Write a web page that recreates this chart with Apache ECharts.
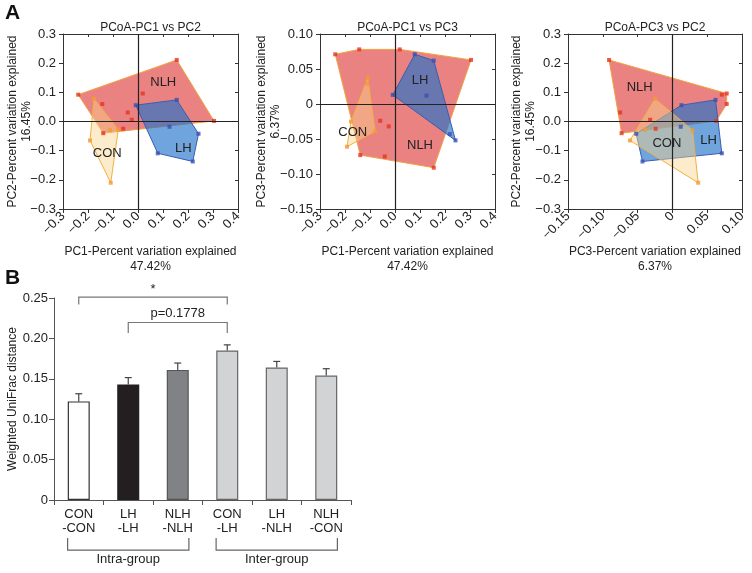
<!DOCTYPE html>
<html><head><meta charset="utf-8">
<script src="https://cdn.jsdelivr.net/npm/echarts@6/dist/echarts.min.js"></script>
<style>html,body{margin:0;padding:0;background:#fff}#c{width:752px;height:573px}</style>
</head><body><div id="c"></div>
<script>
// ---- PCoA coordinates (PC1, PC2, PC3) per sample ----
const conPC1 = [-0.176, -0.109, -0.192, -0.079, -0.112];
const conPC2 = [ 0.078, -0.210, -0.065, -0.028, -0.030];
const conPC3 = [-0.025,  0.037, -0.061, -0.039,  0.029];

const lhPC1 = [-0.009, 0.155,  0.079,  0.219,  0.242,  0.126];
const lhPC2 = [ 0.056, 0.074, -0.109, -0.137, -0.042, -0.018];
const lhPC3 = [ 0.013, 0.062,  0.071, -0.043, -0.052,  0.012];

const nlhPC1 = [-0.239,  0.155, 0.304, -0.143, -0.041, 0.019, -0.025, -0.059, -0.139];
const nlhPC2 = [ 0.092,  0.211, 0.002,  0.060,  0.031, 0.096,  0.006, -0.025, -0.040];
const nlhPC3 = [ 0.071, -0.091, 0.063,  0.078, -0.075, 0.078, -0.032, -0.024, -0.073];

const groupNames = ['NLH', 'LH', 'CON'];

// ---- Weighted UniFrac distances ----
const pairCategories = ['CON\n-CON', 'LH\n-LH', 'NLH\n-NLH', 'CON\n-LH', 'LH\n-NLH', 'NLH\n-CON'];
const meanDistance = [0.122, 0.143, 0.161, 0.185, 0.164, 0.154];
const semDistance  = [0.0095, 0.0085, 0.0085, 0.0070, 0.0075, 0.0085];

const sigFrom = [0, 1];
const sigTo = [3, 3];
const sigLevel = [0.251, 0.2197];
const sigDrop = [0.009, 0.013];
const sigText = ['*', 'p=0.1778'];

const groupFrom = [0, 3];
const groupTo = [2, 5];
const groupLabels = ['Intra-group', 'Inter-group'];

// ---------------------------------------------------------------
const FONT = '"Liberation Sans", Arial, Helvetica, sans-serif';
const TXT = '#222';
const AX = '#333';
const TICK_FS = 13;

const groups = [
  {name: 'NLH', pcs: [nlhPC1, nlhPC2, nlhPC3], fill: 'rgba(218,40,40,0.58)', stroke: '#f0a23c', point: '#e5331f'},
  {name: 'LH',  pcs: [lhPC1, lhPC2, lhPC3],    fill: 'rgba(30,112,200,0.64)', stroke: '#3a5db5', point: '#3a4fb0'},
  {name: 'CON', pcs: [conPC1, conPC2, conPC3], fill: 'rgba(250,212,140,0.45)', stroke: '#f2b040', point: '#f39a35'}
];

function signed(v, d, zero) {
  if (Math.abs(v) < 1e-9) return zero;
  const s = Math.abs(v).toFixed(d);
  return v < 0 ? '\u2212' + s : s;
}

function convexHull(pts) {
  const p = pts.slice().sort((a, b) => a[0] - b[0] || a[1] - b[1]);
  const cross = (o, a, b) => (a[0] - o[0]) * (b[1] - o[1]) - (a[1] - o[1]) * (b[0] - o[0]);
  const lower = [];
  for (const q of p) { while (lower.length >= 2 && cross(lower[lower.length - 2], lower[lower.length - 1], q) <= 0) lower.pop(); lower.push(q); }
  const upper = [];
  for (let i = p.length - 1; i >= 0; i--) { const q = p[i]; while (upper.length >= 2 && cross(upper[upper.length - 2], upper[upper.length - 1], q) <= 0) upper.pop(); upper.push(q); }
  upper.pop(); lower.pop();
  return lower.concat(upper);
}

const panels = [
  {title: 'PCoA-PC1 vs PC2', xKey: 0, yKey: 1,
   grid: {left: 63, top: 34, width: 175, height: 175},
   x: {min: -0.3, max: 0.4, interval: 0.1, dec: 1, zero: '0.0'},
   y: {min: -0.3, max: 0.3, interval: 0.1, dec: 1, zero: '0.0'},
   xName: 'PC1-Percent variation explained\n47.42%', yName: 'PC2-Percent variation explained\n16.45%', yGap: 29,
   labels: {NLH: [0.101, 0.135], LH: [0.181, -0.093], CON: [-0.123, -0.111]}},
  {title: 'PCoA-PC1 vs PC3', xKey: 0, yKey: 2,
   grid: {left: 320, top: 34, width: 175, height: 175},
   x: {min: -0.3, max: 0.4, interval: 0.1, dec: 1, zero: '0.0'},
   y: {min: -0.15, max: 0.1, interval: 0.05, dec: 2, zero: '0'},
   xName: 'PC1-Percent variation explained\n47.42%', yName: 'PC3-Percent variation explained\n6.37%', yGap: 37,
   labels: {NLH: [0.10, -0.059], LH: [0.10, 0.033], CON: [-0.169, -0.041]}},
  {title: 'PCoA-PC3 vs PC2', xKey: 2, yKey: 1,
   grid: {left: 568, top: 34, width: 174, height: 175},
   x: {min: -0.15, max: 0.1, interval: 0.05, dec: 2, zero: '0'},
   y: {min: -0.3, max: 0.3, interval: 0.1, dec: 1, zero: '0.0'},
   xName: 'PC3-Percent variation explained\n6.37%', yName: 'PC2-Percent variation explained\n16.45%', yGap: 30,
   labels: {NLH: [-0.047, 0.118], LH: [0.052, -0.065], CON: [-0.008, -0.074]}}
];

const grid = [], xAxis = [], yAxis = [], series = [], title = [];

panels.forEach((pn, i) => {
  grid.push(Object.assign({containLabel: false}, pn.grid));
  title.push({text: pn.title, left: pn.grid.left + pn.grid.width / 2, top: 22, textAlign: 'center', padding: 0,
    textStyle: {fontSize: 12, fontWeight: 'normal', color: TXT, fontFamily: FONT}});
  const xi = xAxis.length, yi = yAxis.length;
  xAxis.push({type: 'value', gridIndex: i, position: 'bottom', min: pn.x.min, max: pn.x.max, interval: pn.x.interval,
    name: pn.xName, nameLocation: 'middle', nameGap: 35, nameMoveOverlap: false,
    nameTextStyle: {fontSize: 12, color: TXT, lineHeight: 15, fontFamily: FONT},
    axisLine: {show: true, onZero: false, lineStyle: {color: AX}},
    axisTick: {show: true, inside: false, length: 4, lineStyle: {color: AX}},
    axisLabel: {rotate: 45, margin: 5, fontSize: TICK_FS, color: TXT, fontFamily: FONT,
      formatter: v => signed(v, pn.x.dec, pn.x.zero)},
    splitLine: {show: false}});
  xAxis.push({type: 'value', gridIndex: i, position: 'top', min: pn.x.min, max: pn.x.max, interval: pn.x.interval,
    axisLine: {show: true, onZero: false, lineStyle: {color: AX}},
    axisTick: {show: true, inside: true, length: 3, lineStyle: {color: AX}},
    axisLabel: {show: false}, splitLine: {show: false}});
  yAxis.push({type: 'value', gridIndex: i, position: 'left', min: pn.y.min, max: pn.y.max, interval: pn.y.interval,
    name: pn.yName, nameLocation: 'middle', nameGap: pn.yGap, nameRotate: 90, nameMoveOverlap: false,
    nameTextStyle: {fontSize: 12, color: TXT, lineHeight: 14, fontFamily: FONT},
    axisLine: {show: true, onZero: false, lineStyle: {color: AX}},
    axisTick: {show: true, inside: false, length: 4, lineStyle: {color: AX}},
    axisLabel: {margin: 7, fontSize: TICK_FS, color: TXT, fontFamily: FONT,
      formatter: v => signed(v, pn.y.dec, pn.y.zero)},
    splitLine: {show: false}});
  yAxis.push({type: 'value', gridIndex: i, position: 'right', min: pn.y.min, max: pn.y.max, interval: pn.y.interval,
    axisLine: {show: true, onZero: false, lineStyle: {color: AX}},
    axisTick: {show: true, inside: true, length: 3, lineStyle: {color: AX}},
    axisLabel: {show: false}, splitLine: {show: false}});

  // hull polygons
  groups.forEach((g, gi) => {
    const pts = g.pcs[pn.xKey].map((v, k) => [v, g.pcs[pn.yKey][k]]);
    const hull = convexHull(pts);
    series.push({type: 'custom', name: g.name + ' hull', xAxisIndex: xi, yAxisIndex: yi, silent: true, z: 1 + gi * 0.1,
      clip: false, data: hull,
      renderItem: (params, api) => {
        if (params.dataIndex !== 0) return null;
        return {type: 'polygon', shape: {points: hull.map(p => api.coord(p))},
          style: {fill: g.fill, stroke: g.stroke, lineWidth: 1}};
      }});
  });
  // points
  groups.forEach((g, gi) => {
    const pts = g.pcs[pn.xKey].map((v, k) => [v, g.pcs[pn.yKey][k]]);
    const s = {type: 'scatter', name: g.name, xAxisIndex: xi, yAxisIndex: yi, data: pts, symbol: 'rect', symbolSize: 4,
      itemStyle: {color: g.point}, silent: true, z: 3};
    if (gi === 0) {
      s.markLine = {silent: true, symbol: ['none', 'none'], label: {show: false}, animation: false,
        lineStyle: {color: '#222', width: 1.2, type: 'solid'}, emphasis: {disabled: true},
        data: [{xAxis: 0}, {yAxis: 0}]};
    }
    series.push(s);
  });
  // group names
  series.push({type: 'custom', name: 'labels', xAxisIndex: xi, yAxisIndex: yi, silent: true, z: 4, clip: false,
    data: groupNames.map(n => pn.labels[n].concat([n])),
    renderItem: (params, api) => {
      const c = api.coord([api.value(0), api.value(1)]);
      return {type: 'text', x: c[0], y: c[1],
        style: {text: groupNames[params.dataIndex], fill: TXT, fontSize: 13, fontFamily: FONT, align: 'center', verticalAlign: 'middle'}};
    }});
});

// ---- bar chart ----
const bi = 3;
grid.push({left: 54, top: 298, width: 297, height: 202, containLabel: false});
const bxi = xAxis.length, byi = yAxis.length;
xAxis.push({type: 'category', gridIndex: bi, data: pairCategories,
  axisLine: {show: true, lineStyle: {color: '#555'}},
  axisTick: {show: true, length: 5, lineStyle: {color: '#555'}},
  axisLabel: {fontSize: 13, lineHeight: 14, margin: 7, color: TXT, fontFamily: FONT, interval: 0},
  splitLine: {show: false}});
yAxis.push({type: 'value', gridIndex: bi, min: 0, max: 0.25, interval: 0.05,
  name: 'Weighted UniFrac distance', nameLocation: 'middle', nameGap: 35, nameRotate: 90, nameMoveOverlap: false,
  nameTextStyle: {fontSize: 12, color: TXT, fontFamily: FONT},
  axisLine: {show: true, lineStyle: {color: '#555'}},
  axisTick: {show: true, length: 5, lineStyle: {color: '#555'}},
  axisLabel: {fontSize: TICK_FS, margin: 6, color: TXT, fontFamily: FONT, formatter: v => v === 0 ? '0' : v.toFixed(2)},
  splitLine: {show: false}});

const barFills = ['#ffffff', '#231f20', '#808285', '#d1d3d4', '#d1d3d4', '#d1d3d4'];
const barBorders = ['#333', '#231f20', '#555', '#666', '#666', '#666'];
series.push({type: 'bar', xAxisIndex: bxi, yAxisIndex: byi, barWidth: 22, silent: true, z: 2,
  data: meanDistance.map((v, i) => ({value: v, itemStyle: {color: barFills[i], borderColor: barBorders[i], borderWidth: 1.2}}))});

series.push({type: 'custom', name: 'sem', xAxisIndex: bxi, yAxisIndex: byi, silent: true, z: 3, clip: false,
  data: meanDistance.map((v, i) => [i, v, semDistance[i]]),
  renderItem: (params, api) => {
    const b = api.coord([api.value(0), api.value(1)]);
    const t = api.coord([api.value(0), api.value(1) + api.value(2)]);
    const st = {stroke: '#444', lineWidth: 1.2};
    return {type: 'group', children: [
      {type: 'line', shape: {x1: b[0], y1: b[1], x2: t[0], y2: t[1]}, style: st},
      {type: 'line', shape: {x1: t[0] - 3.5, y1: t[1], x2: t[0] + 3.5, y2: t[1]}, style: st}
    ]};
  }});

series.push({type: 'custom', name: 'significance', xAxisIndex: bxi, yAxisIndex: byi, silent: true, z: 3, clip: false,
  data: sigFrom.map((f, i) => [f, sigLevel[i], sigTo[i], sigDrop[i]]),
  renderItem: (params, api) => {
    const i = params.dataIndex;
    const lvl = api.value(1), drop = api.value(3);
    const a = api.coord([api.value(0), lvl]), a2 = api.coord([api.value(0), lvl - drop]);
    const b = api.coord([api.value(2), lvl]), b2 = api.coord([api.value(2), lvl - drop]);
    return {type: 'group', children: [
      {type: 'polyline', shape: {points: [a2, a, b, b2]}, style: {stroke: '#777', lineWidth: 1.2, fill: null}},
      {type: 'text', x: (a[0] + b[0]) / 2, y: a[1] - (i === 0 ? 1 : 3),
        style: {text: sigText[i], fill: TXT, fontSize: 13, fontFamily: FONT, align: 'center', verticalAlign: 'bottom'}}
    ]};
  }});

series.push({type: 'custom', name: 'groups', xAxisIndex: bxi, yAxisIndex: byi, silent: true, z: 3, clip: false,
  data: groupFrom.map((f, i) => [f, 0, groupTo[i]]),
  renderItem: (params, api) => {
    const half = api.size([1, 0])[0] * 0.225;
    const f = api.coord([api.value(0), -0.047]), fB = api.coord([api.value(0), -0.062]);
    const t = api.coord([api.value(2), -0.047]), tB = api.coord([api.value(2), -0.062]);
    const x0 = f[0] - half, x1 = t[0] + half;
    return {type: 'group', children: [
      {type: 'polyline', shape: {points: [[x0, f[1]], [x0, fB[1]], [x1, tB[1]], [x1, t[1]]]}, style: {stroke: '#666', lineWidth: 1.2, fill: null}},
      {type: 'text', x: (x0 + x1) / 2, y: fB[1] + 3,
        style: {text: groupLabels[params.dataIndex], fill: TXT, fontSize: 13, fontFamily: FONT, align: 'center', verticalAlign: 'top'}}
    ]};
  }});

const chart = echarts.init(document.getElementById('c'), null, {renderer: 'canvas'});
chart.setOption({
  animation: false,
  backgroundColor: '#fff',
  textStyle: {fontFamily: FONT},
  title: title,
  grid: grid, xAxis: xAxis, yAxis: yAxis, series: series,
  graphic: [
    {type: 'text', left: 5, top: 3, style: {text: 'A', fill: '#111', fontSize: 21, fontWeight: 'bold', fontFamily: FONT}},
    {type: 'text', left: 5, top: 268, style: {text: 'B', fill: '#111', fontSize: 21, fontWeight: 'bold', fontFamily: FONT}}
  ]
});
</script></body></html>
